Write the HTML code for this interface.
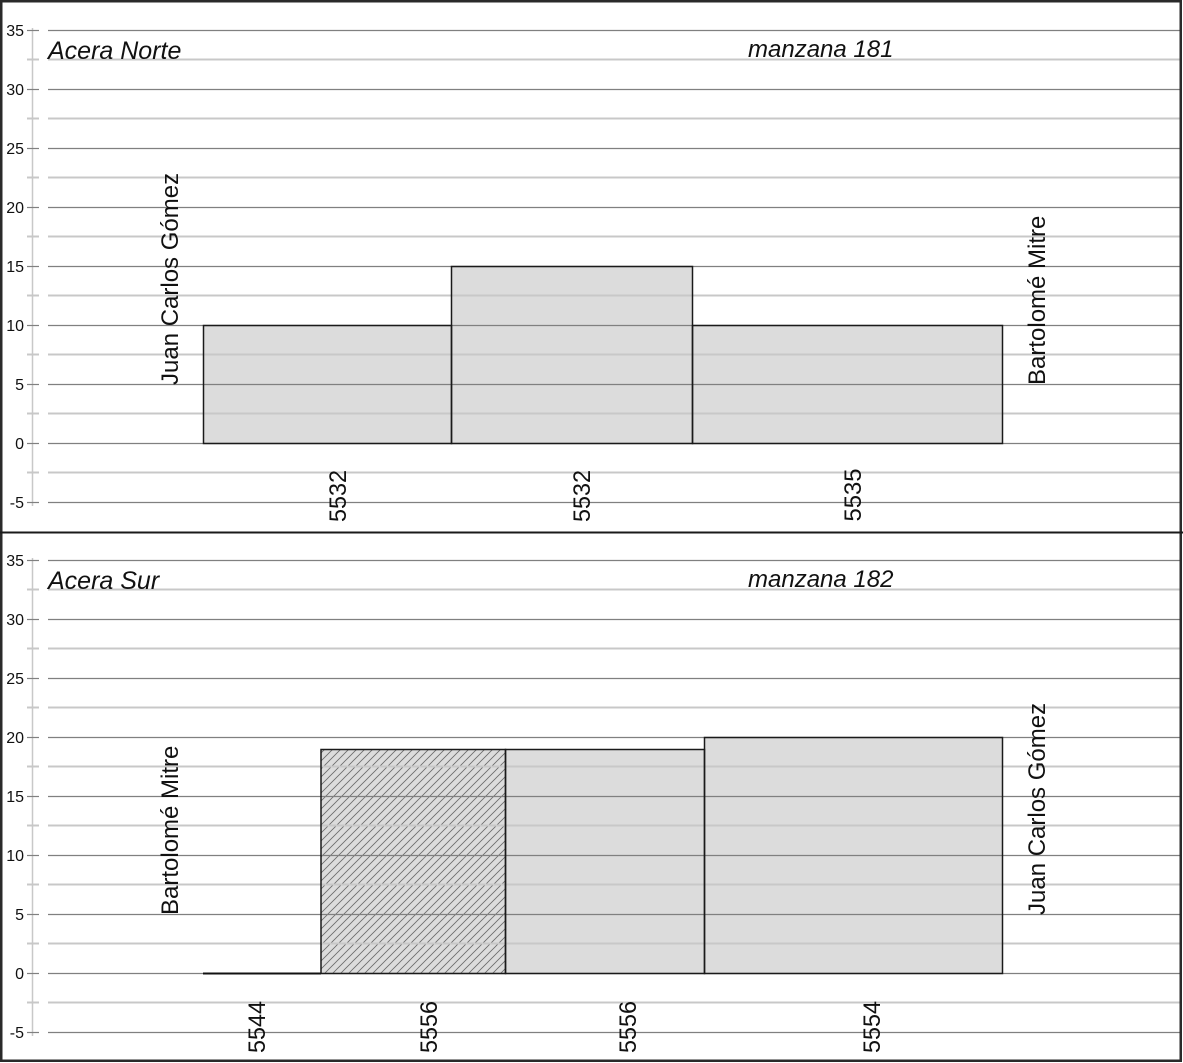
<!DOCTYPE html>
<html><head><meta charset="utf-8"><style>
html,body{margin:0;padding:0;background:#fff;}
svg{display:block;}
text{font-family:"Liberation Sans",Arial,sans-serif;fill:#111;}
</style></head><body>
<svg width="1183" height="1063" viewBox="0 0 1183 1063" xmlns="http://www.w3.org/2000/svg">
<defs>
<pattern id="hatch" patternUnits="userSpaceOnUse" width="8" height="8">
<rect width="8" height="8" fill="#dcdcdc"/>
<path d="M-2,2 L2,-2 M0,8 L8,0 M6,10 L10,6" stroke="#6a6a6a" stroke-width="0.8"/>
</pattern>
<g id="axis">
<line x1="32.5" y1="28" x2="32.5" y2="506" stroke="#c8c8c8" stroke-width="1.5"/>
<g stroke="#c8c8c8" stroke-width="2">
<line x1="27" y1="59.5" x2="39" y2="59.5"/>
<line x1="27" y1="118.5" x2="39" y2="118.5"/>
<line x1="27" y1="177.5" x2="39" y2="177.5"/>
<line x1="27" y1="236.5" x2="39" y2="236.5"/>
<line x1="27" y1="295.5" x2="39" y2="295.5"/>
<line x1="27" y1="354.5" x2="39" y2="354.5"/>
<line x1="27" y1="413.5" x2="39" y2="413.5"/>
<line x1="27" y1="472.5" x2="39" y2="472.5"/>
</g>
<g stroke="#808080" stroke-width="1.2">
<line x1="27" y1="30.5" x2="39" y2="30.5"/>
<line x1="27" y1="89.5" x2="39" y2="89.5"/>
<line x1="27" y1="148.5" x2="39" y2="148.5"/>
<line x1="27" y1="207.5" x2="39" y2="207.5"/>
<line x1="27" y1="266.5" x2="39" y2="266.5"/>
<line x1="27" y1="325.5" x2="39" y2="325.5"/>
<line x1="27" y1="384.5" x2="39" y2="384.5"/>
<line x1="27" y1="443.5" x2="39" y2="443.5"/>
<line x1="27" y1="502.5" x2="39" y2="502.5"/>
</g>
<g font-size="16" text-anchor="end">
<text x="24" y="36">35</text>
<text x="24" y="95">30</text>
<text x="24" y="154">25</text>
<text x="24" y="213">20</text>
<text x="24" y="272">15</text>
<text x="24" y="331">10</text>
<text x="24" y="390">5</text>
<text x="24" y="449">0</text>
<text x="24" y="508">-5</text>
</g>
</g>
<g id="grid">
<g stroke="#c8c8c8" stroke-width="2">
<line x1="48" y1="59.5" x2="1180" y2="59.5"/>
<line x1="48" y1="118.5" x2="1180" y2="118.5"/>
<line x1="48" y1="177.5" x2="1180" y2="177.5"/>
<line x1="48" y1="236.5" x2="1180" y2="236.5"/>
<line x1="48" y1="295.5" x2="1180" y2="295.5"/>
<line x1="48" y1="354.5" x2="1180" y2="354.5"/>
<line x1="48" y1="413.5" x2="1180" y2="413.5"/>
<line x1="48" y1="472.5" x2="1180" y2="472.5"/>
</g>
<g stroke="#808080" stroke-width="1.2">
<line x1="48" y1="30.5" x2="1180" y2="30.5"/>
<line x1="48" y1="89.5" x2="1180" y2="89.5"/>
<line x1="48" y1="148.5" x2="1180" y2="148.5"/>
<line x1="48" y1="207.5" x2="1180" y2="207.5"/>
<line x1="48" y1="266.5" x2="1180" y2="266.5"/>
<line x1="48" y1="325.5" x2="1180" y2="325.5"/>
<line x1="48" y1="384.5" x2="1180" y2="384.5"/>
<line x1="48" y1="443.5" x2="1180" y2="443.5"/>
<line x1="48" y1="502.5" x2="1180" y2="502.5"/>
</g>
</g>
</defs>
<rect width="1183" height="1063" fill="#fff"/>

<!-- TOP PANEL -->
<g>
<rect x="203.5" y="325.5" width="248" height="118" fill="#dcdcdc"/>
<rect x="451.5" y="266.5" width="241" height="177" fill="#dcdcdc"/>
<rect x="692.5" y="325.5" width="310" height="118" fill="#dcdcdc"/>
<use href="#grid"/>
<use href="#axis"/>
<g fill="none" stroke="#1a1a1a" stroke-width="1.5">
<rect x="203.5" y="325.5" width="248" height="118"/>
<rect x="451.5" y="266.5" width="241" height="177"/>
<rect x="692.5" y="325.5" width="310" height="118"/>
</g>
<text x="48" y="59" font-size="25" font-style="italic">Acera Norte</text>
<text x="748" y="57" font-size="24" font-style="italic">manzana 181</text>
<text transform="translate(178,385) rotate(-90)" font-size="24">Juan Carlos Gómez</text>
<text transform="translate(1045,385) rotate(-90)" font-size="24">Bartolomé Mitre</text>
<g font-size="24" text-anchor="middle">
<text transform="translate(346,496) rotate(-90)" textLength="52" lengthAdjust="spacingAndGlyphs">5532</text>
<text transform="translate(590,496) rotate(-90)" textLength="52" lengthAdjust="spacingAndGlyphs">5532</text>
<text transform="translate(861,495) rotate(-90)" textLength="53" lengthAdjust="spacingAndGlyphs">5535</text>
</g>
</g>

<!-- BOTTOM PANEL -->
<g transform="translate(0,530)">
<rect x="321" y="219.5" width="184" height="224" fill="url(#hatch)"/>
<rect x="505.5" y="219.5" width="199" height="224" fill="#dcdcdc"/>
<rect x="704.5" y="207.5" width="298" height="236" fill="#dcdcdc"/>
<use href="#grid"/>
<use href="#axis"/>
<line x1="203" y1="443.5" x2="321" y2="443.5" stroke="#111" stroke-width="2"/>
<g fill="none" stroke="#1a1a1a" stroke-width="1.5">
<rect x="321" y="219.5" width="184.5" height="224"/>
<rect x="505.5" y="219.5" width="199" height="224"/>
<rect x="704.5" y="207.5" width="298" height="236"/>
</g>
<text x="48" y="59" font-size="25" font-style="italic">Acera Sur</text>
<text x="748" y="57" font-size="24" font-style="italic">manzana 182</text>
<text transform="translate(178,385) rotate(-90)" font-size="24">Bartolomé Mitre</text>
<text transform="translate(1045,385) rotate(-90)" font-size="24">Juan Carlos Gómez</text>
<g font-size="24" text-anchor="middle">
<text transform="translate(265,497) rotate(-90)" textLength="52" lengthAdjust="spacingAndGlyphs">5544</text>
<text transform="translate(437,497) rotate(-90)" textLength="52" lengthAdjust="spacingAndGlyphs">5556</text>
<text transform="translate(636,497) rotate(-90)" textLength="52" lengthAdjust="spacingAndGlyphs">5556</text>
<text transform="translate(880,497) rotate(-90)" textLength="52" lengthAdjust="spacingAndGlyphs">5554</text>
</g>
</g>

<rect x="1.25" y="1.25" width="1179.5" height="1059.5" fill="none" stroke="#2a2a2a" stroke-width="2.5"/>
<line x1="0" y1="532.5" x2="1183" y2="532.5" stroke="#1a1a1a" stroke-width="2"/>
</svg>
</body></html>
